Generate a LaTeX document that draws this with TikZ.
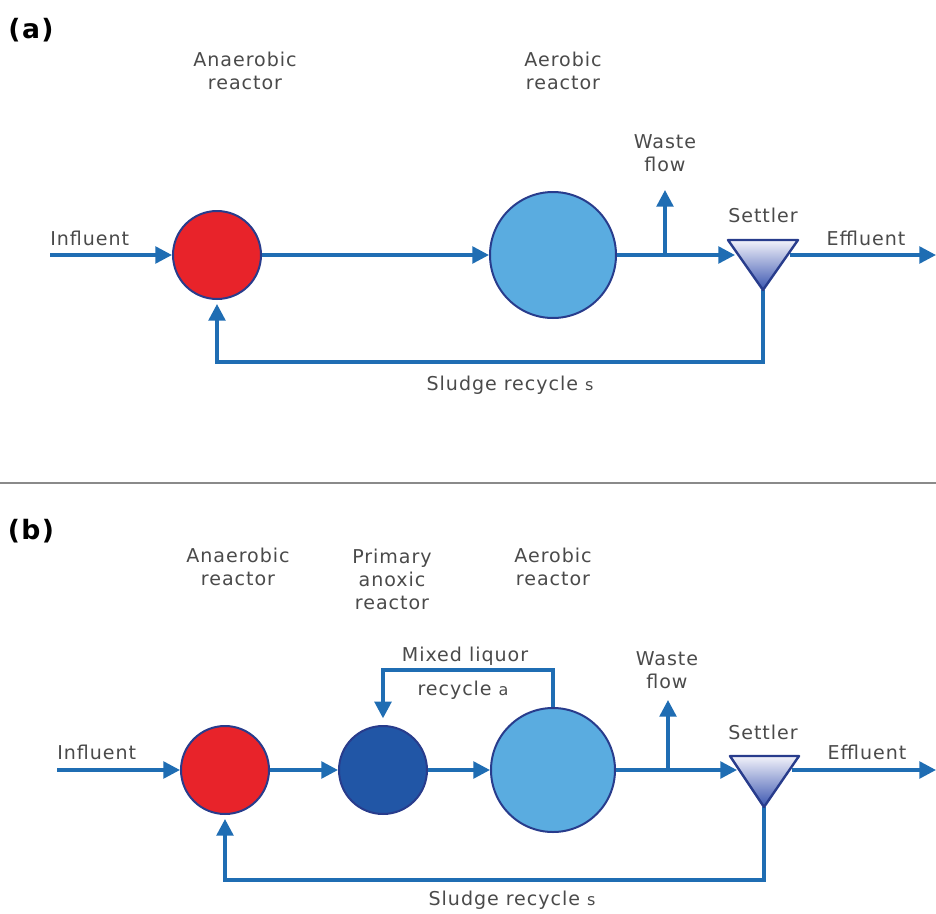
\documentclass[tikz,border=0pt]{standalone}
\usepackage{fontspec}
\setmainfont{DejaVu Sans}[LetterSpace=5]
\usetikzlibrary{arrows.meta}
\definecolor{flowblue}{HTML}{1F6DB3}
\definecolor{navy}{HTML}{283C8C}
\definecolor{anared}{HTML}{E8232A}
\definecolor{aerblue}{HTML}{5AACE0}
\definecolor{anoxblue}{HTML}{2156A6}
\definecolor{txtgray}{HTML}{4A4A4A}
\definecolor{settop}{HTML}{F2F2FA}
\definecolor{setbot}{HTML}{3A55B0}
\definecolor{sepgray}{HTML}{8A8A8A}
\begin{document}
\begin{tikzpicture}[x=0.75pt,y=-0.75pt,
  flow/.style={draw=flowblue,line width=2.6pt,-{Triangle[width=12.5pt,length=12.5pt]}},
  pipe/.style={draw=flowblue,line width=2.6pt},
  reactor/.style={circle,draw=navy,line width=1.5pt,inner sep=0pt},
  lbl/.style={text=txtgray,font=\fontsize{14.3}{17.3}\selectfont,align=center,inner sep=0pt},
  panel/.style={font=\bfseries\fontsize{20}{22}\selectfont,inner sep=0pt},
  settlerbox/.style={top color=settop,bottom color=setbot,draw=navy,line width=1.8pt,line join=round}]
\useasboundingbox (0,0) rectangle (936,914);

% ---------------- panel (a) ----------------
\node[panel] (pa) at (31,30) {(a)};
\node[lbl] (tAnaA) at (245,71) {Anaerobic\\reactor};
\node[lbl] (tAerA) at (563,71) {Aerobic\\reactor};
\node[reactor,fill=anared,minimum size=66pt] (anaA) at (217,255) {};
\node[reactor,fill=aerblue,minimum size=94.5pt] (aerA) at (553,255) {};
\node[lbl,anchor=west] (inA) at (50,238) {Influent};
\node[lbl] (tWasteA) at (665,153) {Waste\\flow};
\node[lbl] (tSetA) at (763,215) {Settler};
\node[lbl] (tEffA) at (866,238) {Effluent};
\node[lbl] (tSlA) at (510,385) {Sludge recycle {\fontsize{12}{13}\selectfont s}};

\coordinate (inAs) at (50,255);
\coordinate (wA) at (665,255);
\coordinate (wAtop) at (665,190);
\coordinate (setAin) at (735,255);
\coordinate (setAout) at (790,255);
\coordinate (effA) at (936,255);
\coordinate (setAtl) at (728,240);
\coordinate (setAtr) at (798,240);
\coordinate (setAbot) at (763,290);
\coordinate (slA) at (763,362);

\draw[flow] (inAs) -- (anaA.west);
\draw[flow] (anaA) -- (aerA);
\draw[pipe] (aerA.east) -- (wA);
\draw[flow] (wA) -- (setAin);
\draw[flow] (wA) -- (wAtop);
\draw[flow] (setAout) -- (effA);
\draw[flow,shorten >=3pt] (setAbot) -- (slA) -| (anaA.south);
\shadedraw[settlerbox] (setAtl) -- (setAtr) -- (setAbot) -- cycle;

% separator
\coordinate (sepL) at (0,483);
\coordinate (sepR) at (936,483);
\draw[sepgray,line width=2pt] (sepL) -- (sepR);

% ---------------- panel (b) ----------------
\node[panel] (pb) at (31,531) {(b)};
\node[lbl] (tAnaB) at (238,567) {Anaerobic\\reactor};
\node[lbl] (tAnoxB) at (392,579) {Primary\\anoxic\\reactor};
\node[lbl] (tAerB) at (553,567) {Aerobic\\reactor};
\node[reactor,fill=anared,minimum size=66pt] (anaB) at (225,770) {};
\node[reactor,fill=anoxblue,minimum size=66pt] (anoxB) at (383,770) {};
\node[reactor,fill=aerblue,minimum size=93pt] (aerB) at (553,770) {};
\node[lbl,anchor=west] (inB) at (57,752) {Influent};
\node[lbl] (tMix1) at (465,656) {Mixed liquor};
\node[lbl] (tMix2) at (463,690) {recycle {\fontsize{12}{13}\selectfont a}};
\node[lbl] (tWasteB) at (667,670) {Waste\\flow};
\node[lbl] (tSetB) at (763,732) {Settler};
\node[lbl] (tEffB) at (867,752) {Effluent};
\node[lbl] (tSlB) at (512,900) {Sludge recycle {\fontsize{12}{13}\selectfont s}};

\coordinate (inBs) at (57,770);
\coordinate (mlTop) at (553,670);
\coordinate (wB) at (668,770);
\coordinate (wBtop) at (668,700);
\coordinate (setBin) at (737,770);
\coordinate (setBout) at (792,770);
\coordinate (effB) at (936,770);
\coordinate (setBtl) at (730,756);
\coordinate (setBtr) at (799,756);
\coordinate (setBbot) at (764,807);
\coordinate (slB) at (764,880);

\draw[flow] (inBs) -- (anaB.west);
\draw[flow] (anaB) -- (anoxB);
\draw[flow] (anoxB) -- (aerB);
\draw[flow,shorten >=5pt] (aerB.north) -- (mlTop) -| (anoxB.north);
\draw[pipe] (aerB.east) -- (wB);
\draw[flow] (wB) -- (setBin);
\draw[flow] (wB) -- (wBtop);
\draw[flow] (setBout) -- (effB);
\draw[flow,shorten >=3pt] (setBbot) -- (slB) -| (anaB.south);
\shadedraw[settlerbox] (setBtl) -- (setBtr) -- (setBbot) -- cycle;
\end{tikzpicture}
\end{document}
